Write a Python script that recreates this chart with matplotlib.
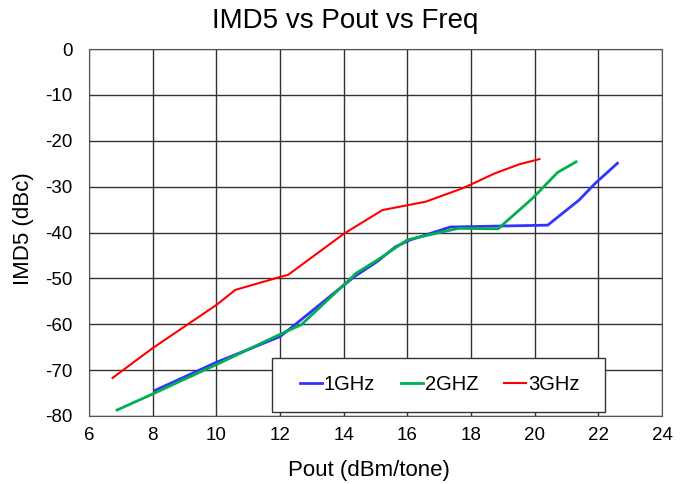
import matplotlib
matplotlib.use("Agg")
import matplotlib.pyplot as plt
from matplotlib.patches import Rectangle

plt.rcParams['font.family'] = ['Liberation Sans', 'DejaVu Sans']
plt.rcParams['axes.unicode_minus'] = False

x_1ghz = [8.08, 10.0, 12.0, 12.47, 14.34, 15.06, 15.63, 16.1, 17.35, 20.41, 21.4, 21.9, 22.6]
y_1ghz = [-74.4, -68.3, -62.7, -60.1, -49.6, -46.3, -43.1, -41.6, -38.8, -38.4, -32.9, -29.3, -24.9]

x_2ghz = [6.88, 8.0, 8.9, 10.0, 12.0, 12.67, 14.39, 15.06, 16.0, 17.6, 18.85, 19.94, 20.72, 21.3]
y_2ghz = [-78.7, -75.2, -72.3, -68.8, -62.2, -60.1, -48.9, -46.0, -41.6, -39.1, -39.2, -32.5, -26.9, -24.6]

x_3ghz = [6.74, 8.0, 10.0, 10.6, 12.0, 12.26, 14.0, 15.22, 16.57, 17.76, 18.75, 19.53, 20.15]
y_3ghz = [-71.7, -65.2, -55.8, -52.5, -49.7, -49.2, -40.3, -35.1, -33.3, -30.3, -27.1, -25.1, -24.0]

labels = ['1GHz', '2GHZ', '3GHz']
colors = ['#3333ff', '#00b050', '#ff0000']

fig = plt.figure(figsize=(6.91, 4.84), dpi=100)
ax = fig.add_axes([89/691, 1 - 416/484, (662-89)/691, (416-49)/484])

ax.plot(x_1ghz, y_1ghz, color=colors[0], lw=2, label=labels[0])
ax.plot(x_2ghz, y_2ghz, color=colors[1], lw=2, label=labels[1])
ax.plot(x_3ghz, y_3ghz, color=colors[2], lw=1.5, label=labels[2])

ax.set_xlim(6, 24)
ax.set_ylim(-80, 0)
ax.set_xticks(range(6, 25, 2))
ax.set_yticks(range(-80, 1, 10))
ax.grid(True, color='#333333', lw=1)
ax.set_axisbelow(True)
for s in ax.spines.values():
    s.set_color('#555555')
ax.tick_params(axis='x', length=0, labelsize=13.5, pad=8)
ax.tick_params(axis='y', length=0, labelsize=13.5, pad=12)

fig.text(0.5, 1 - 28/484, 'IMD5 vs Pout vs Freq', fontsize=20, ha='center', va='baseline')
ax.set_xlabel('Pout (dBm/tone)', fontsize=16)
ax.xaxis.set_label_coords((368.5-89)/573, (416-460)/367)
ax.set_ylabel('IMD5 (dBc)', fontsize=16)
ax.yaxis.set_label_coords((34-89)/573, (416-229)/367)

# legend frame
frame = Rectangle((0.3194, 0.010), 0.9005-0.3194, 0.157-0.010, transform=ax.transAxes,
                  facecolor='white', edgecolor='#333333', lw=1, zorder=5)
ax.add_patch(frame)
leg = ax.legend(loc='center left', bbox_to_anchor=(0.3682, 0.0845), ncol=3, fontsize=14.5,
                frameon=False, handlelength=1.1, handletextpad=0.07, columnspacing=1.3,
                borderpad=0, borderaxespad=0)
leg.set_zorder(6)

fig.savefig('out.png', dpi=100)
